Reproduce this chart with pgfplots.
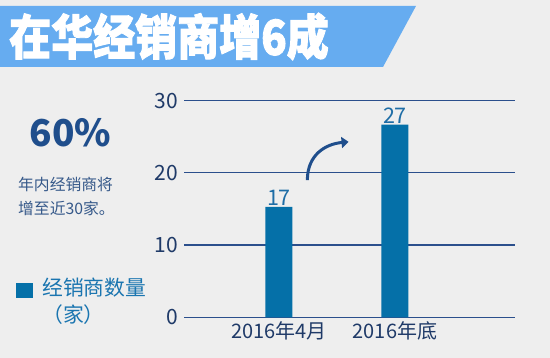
\documentclass[border=0pt]{standalone}
\usepackage{pgfplots}
\pgfplotsset{compat=1.18}
\usepackage{fontspec}
\usepackage{graphicx}
\setmainfont{Noto Sans CJK SC}
\newfontfamily\titlefont{Noto Sans CJK SC}[BoldFeatures={FakeBold=2}]
\usetikzlibrary{arrows.meta}
\definecolor{bgc}{HTML}{EEEEEE}
\definecolor{banner}{HTML}{66ACF0}
\definecolor{barc}{HTML}{0570A8}
\definecolor{gridc}{HTML}{2B4F8C}
\definecolor{tickc}{HTML}{1F3A68}
\definecolor{valc}{HTML}{1E6DA6}
\definecolor{bigc}{HTML}{1F4E8C}
\definecolor{smallc}{HTML}{36598A}
\definecolor{legc}{HTML}{1A75B0}
\begin{document}
\begin{tikzpicture}
\path[use as bounding box] (0pt,0pt) rectangle (550pt,358pt);
\fill[bgc] (0pt,0pt) rectangle (550pt,358pt);
\fill[banner] (0pt,352pt) -- (416pt,352pt) -- (383pt,291pt) -- (0pt,291pt) -- cycle;
\node[anchor=west, text=white, inner sep=0pt] at (9pt,321.5pt) {\scalebox{1}[1.15]{\fontsize{42}{42}\selectfont\titlefont\bfseries 在华经销商增6成}};
\node[text=bigc, inner sep=0pt] at (70.5pt,225.5pt) {\fontsize{37}{37}\selectfont\bfseries 60\%};
\node[anchor=west, text=smallc, inner sep=0pt] at (18pt,173.5pt) {\fontsize{15.8}{15.8}\selectfont 年内经销商将};
\node[anchor=west, text=smallc, inner sep=0pt] at (18pt,149.5pt) {\fontsize{15.8}{15.8}\selectfont 增至近30家。};
\fill[barc] (16pt,60pt) rectangle (33pt,75pt);
\node[anchor=west, text=legc, inner sep=0pt] at (42pt,70pt) {\fontsize{20.8}{20.8}\selectfont 经销商数量};
\node[anchor=west, text=legc, inner sep=0pt] at (42pt,43pt) {\fontsize{20.8}{20.8}\selectfont （家）};
\begin{axis}[
  at={(184.3pt,40.7pt)}, anchor=south west,
  scale only axis, width=330.7pt, height=216.6pt,
  xmin=-0.816, xmax=2.035, ymin=0, ymax=30,
  ytick={0,10,20,30}, xtick={0,1},
  xticklabels={2016年4月,2016年底},
  /pgf/number format/assume math mode=true,
  axis line style={draw=none},
  major tick length=0pt,
  ymajorgrids, grid style={gridc, line width=1.2pt},
  yticklabel style={text=tickc, font=\fontsize{21}{21}\selectfont, xshift=-3pt},
  xticklabel style={text=tickc, font=\fontsize{20}{20}\selectfont, yshift=-1pt},
  clip=false,
]
\addplot[ybar, bar width=27pt, fill=barc, draw=none,
  point meta=explicit symbolic,
  nodes near coords={\pgfplotspointmeta},
  nodes near coords style={text=valc, font=\fontsize{21.5}{21.5}\selectfont, inner sep=1pt, anchor=south}]
  coordinates {(0,15.3) [17] (1,26.7) [27]};
\draw[bigc, line width=3pt, -{Triangle[length=7pt,width=11pt]}]
  (axis cs:0.245,19.0) .. controls (axis cs:0.245,22.5) and (axis cs:0.4,24.0) .. (axis cs:0.6,24.3);
\end{axis}
\end{tikzpicture}
\end{document}
